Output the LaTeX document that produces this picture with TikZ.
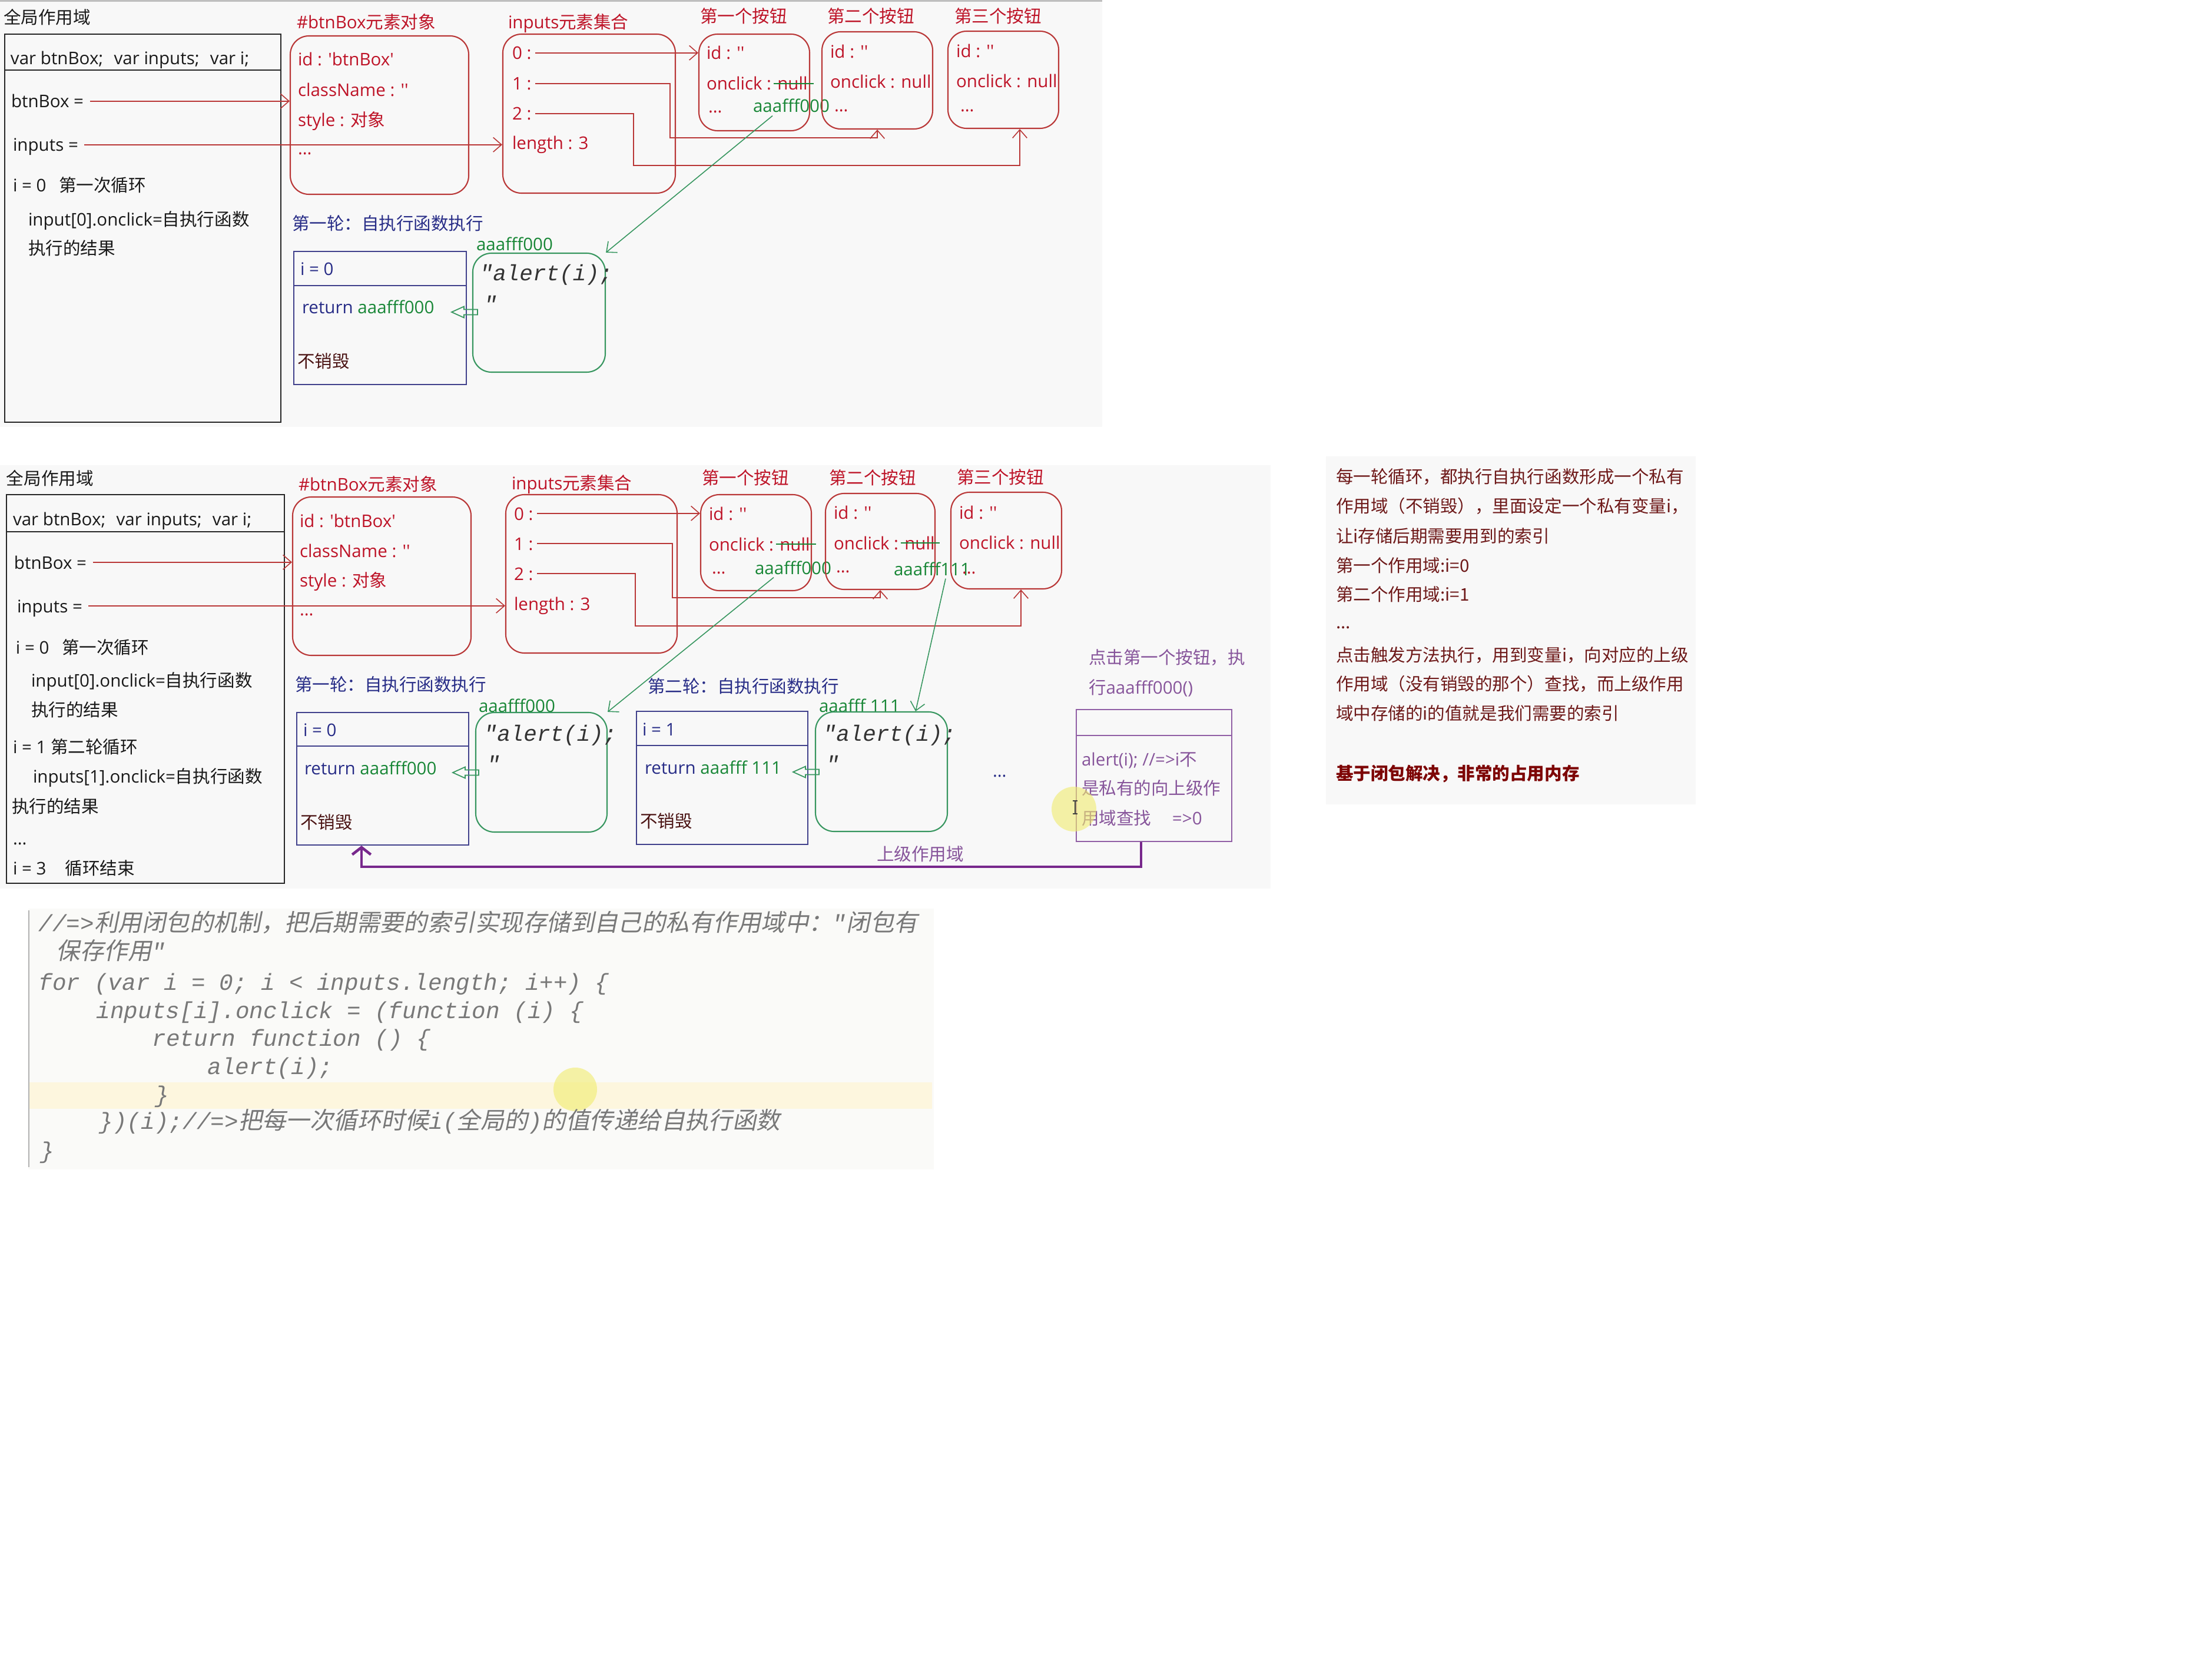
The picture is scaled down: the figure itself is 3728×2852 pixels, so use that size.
\documentclass[tikz,border=0pt]{standalone}
\usepackage{fontspec}
\newfontfamily\latf{Open Sans}
\newfontfamily\zhf{Noto Sans CJK SC}
\newfontfamily\codemono{Liberation Mono}
\newfontfamily\codezh{Noto Sans CJK SC}[FakeSlant=0.2]
\usetikzlibrary{arrows.meta,fit,calc}
\newcommand\zhtxt[1]{{\zhf #1}}
\newcommand\squote{\textquotesingle}
\newcommand\cdm[1]{{\fontsize{11.2}{14}\selectfont\codemono\itshape #1}}
\newcommand\cdz[1]{{\fontsize{11.5}{14}\selectfont\codezh #1}}
\definecolor{cred}{RGB}{190,20,40}
\definecolor{credln}{RGB}{185,55,55}
\definecolor{cgreen}{RGB}{25,135,55}
\definecolor{cgreenln}{RGB}{55,150,95}
\definecolor{cnavy}{RGB}{40,45,135}
\definecolor{cnavyln}{RGB}{65,65,140}
\definecolor{cpurp}{RGB}{120,40,140}
\definecolor{cpurptxt}{RGB}{135,85,155}
\definecolor{cpurpbox}{RGB}{145,95,165}
\definecolor{cdark}{RGB}{75,20,20}
\definecolor{cmaroon}{RGB}{110,25,25}
\definecolor{cbold}{RGB}{125,5,5}
\definecolor{ccode}{RGB}{120,120,120}
\definecolor{cbg}{RGB}{248,248,248}
\definecolor{cbgcode}{RGB}{250,250,248}
\definecolor{chl}{RGB}{253,246,222}
\definecolor{cyel}{RGB}{240,236,110}
\tikzset{
  tx/.style={anchor=base west, inner sep=0pt, outer sep=0pt, font=\fontsize{8.4}{10}\selectfont\latf, text height=8pt, text depth=1.6pt, text=black!90},
  rt/.style={tx, text=cred},
  gt/.style={tx, text=cgreen},
  nt/.style={tx, text=cnavy},
  purptx/.style={tx, text=cpurptxt},
  rp/.style={tx, font=\fontsize{8.4}{10}\selectfont\zhf, text=cmaroon},
  redbox/.style={draw=credln, line width=0.6pt, rounded corners=9pt, inner sep=0pt},
  greenbox/.style={draw=cgreenln, line width=0.6pt, rounded corners=9pt, inner sep=0pt},
  navybox/.style={draw=cnavyln, line width=0.6pt, inner sep=0pt},
  blkbox/.style={draw=black!85, line width=0.6pt, inner sep=0pt},
  purpbox/.style={draw=cpurpbox, line width=0.6pt, inner sep=0pt},
  redarr/.style={draw=credln, line width=0.45pt, -{Straight Barb[length=4pt,width=7pt]}},
  greenarr/.style={draw=cgreenln, line width=0.45pt, -{Straight Barb[length=4pt,width=7pt]}},
  hollow/.style={draw=cgreenln, line width=0.5pt},
  strike/.style={draw=cgreen, line width=0.6pt},
  purparr/.style={draw=cpurp, line width=1.3pt, -{Straight Barb[length=3.5pt,width=9pt]}},
  codetx/.style={anchor=base west, inner sep=0pt, text=ccode},
  alerttx/.style={anchor=base west, inner sep=0pt, text=black!80, font=\fontsize{10.7}{12}\selectfont\codemono\itshape},
}
\begin{document}
\begin{tikzpicture}[x=0.01cm, y=-0.01cm]
\useasboundingbox (0,0) rectangle (3728,2852);
\fill[white] (0,0) rectangle (3728,2852);

% ================= TOP PANEL =================
\fill[cbg] (0,0) rectangle (1872,725);
\draw[gray!50, line width=0.85pt] (0,1.5) -- (1872,1.5);
\node[tx] (g1title) at (6,41) {\zhtxt{全局作用域}};
\node[blkbox, fit={(8,58) (477,717)}] (g1) {};
\draw[black!85, line width=0.6pt] (8,119) -- (477,119);
\node[tx] (g1var) at (18,110) {var btnBox;\hspace{3pt} var inputs;\hspace{3pt} var i;};
\node[tx] (g1btn) at (19,183) {btnBox =};
\node[tx] (g1inp) at (22,257) {inputs =};
\node[tx] (g1i0) at (22,326) {i = 0\hspace{4pt} \zhtxt{第一次循环}};
\node[tx] (g1on0) at (48,384) {input[0].onclick=\zhtxt{自执行函数}};
\node[tx] (g1res0) at (48,433) {\zhtxt{执行的结果}};

\node[rt] (o1lbl) at (504,49) {\#btnBox\zhtxt{元素对象}};
\node[redbox, fit={(493,61) (796,330)}] (o1) {};
\node[rt] (o1id) at (506,112) {id : \squote btnBox\squote};
\node[rt] (o1cls) at (506,164) {className : \squote\squote};
\node[rt] (o1sty) at (506,215) {style : \zhtxt{对象}};
\node[rt] (o1dots) at (506,263) {...};

\node[nt] (r1lbl) at (496,391) {\zhtxt{第一轮：自执行函数执行}};
\node[navybox, fit={(499,427) (792,653)}] (p1) {};
\draw[cnavyln, line width=0.6pt] (499,485) -- (792,485);
\node[nt] (p1i) at (510,468) {i = 0};
\node[nt] (p1ret) at (513,533) {return \textcolor{cgreen}{aaafff000}};
\node[tx, text=cdark] (p1keep) at (505,625) {\zhtxt{不销毁}};

\node[gt] (gb1lbl) at (809,426) {aaafff000};
\node[greenbox, fit={(803,430) (1028,632)}] (gb1) {};
\node[alerttx] (gb1code) at (814,477) {"alert(i);};
\node[alerttx] (gb1q) at (821,530) {"};
\draw[hollow] (767,530) -- (788,520.5) -- (788,525.5) -- (811,525.5) -- (811,534.5) -- (788,534.5) -- (788,539.5) -- cycle;

\node[rt] (i1lbl) at (863,49) {inputs\zhtxt{元素集合}};
\node[redbox, fit={(854,58) (1147,328)}] (i1) {};
\node[rt] (i1z) at (870,101) {0 :};
\node[rt] (i1o) at (870,153) {1 :};
\node[rt] (i1t) at (870,204) {2 :};
\node[rt] (i1len) at (870,254) {length : 3};

\node[rt] (b11lbl) at (1189,39) {\zhtxt{第一个按钮}};
\node[redbox, fit={(1187,58) (1375,222)}] (b11) {};
\node[rt] (b11id) at (1200,101) {id : \squote\squote};
\node[rt] (b11on) at (1200,153) {onclick : null};
\node[rt] (b11d) at (1203,192) {...};
\node[gt] (b11aaa) at (1279,191) {aaafff000};

\node[rt] (b12lbl) at (1405,39) {\zhtxt{第二个按钮}};
\node[redbox, fit={(1396,54) (1584,219)}] (b12) {};
\node[rt] (b12id) at (1410,99) {id : \squote\squote};
\node[rt] (b12on) at (1410,150) {onclick : null};
\node[rt] (b12d) at (1417,190) {...};

\node[rt] (b13lbl) at (1621,39) {\zhtxt{第三个按钮}};
\node[redbox, fit={(1610,53) (1798,218)}] (b13) {};
\node[rt] (b13id) at (1624,98) {id : \squote\squote};
\node[rt] (b13on) at (1624,149) {onclick : null};
\node[rt] (b13d) at (1631,190) {...};

\draw[redarr] ([xshift=3pt]g1btn.east) -- (g1btn.east -| o1.west);
\draw[redarr] ([xshift=3pt]g1inp.east) -- (g1inp.east -| i1.west);
\draw[redarr] ([xshift=2pt]i1z.east) -- (i1z.east -| b11.west);
\draw[redarr] ([xshift=2pt]i1o.east) -| (1138,234) -| (b12.south);
\draw[redarr] ([xshift=2pt]i1t.east) -| (1076,281) -| ($(b13.south)+(28,0)$);
\draw[strike] ($(b11on.east)+(-58,0)$) -- ($(b11on.east)+(10,0)$);
\draw[greenarr] ($(b11aaa.south)+(-32,0)$) -- (gb1.north east);

% ================= LOWER PANEL =================
\fill[cbg] (0,790) rectangle (2158,1509);
\node[tx] (g2title) at (11,823) {\zhtxt{全局作用域}};
\node[blkbox, fit={(11,840) (483,1500)}] (g2) {};
\draw[black!85, line width=0.6pt] (11,903) -- (483,903);
\node[tx] (g2var) at (22,892) {var btnBox;\hspace{3pt} var inputs;\hspace{3pt} var i;};
\node[tx] (g2btn) at (24,966) {btnBox =};
\node[tx] (g2inp) at (29,1040) {inputs =};
\node[tx] (g2i0) at (27,1110) {i = 0\hspace{4pt} \zhtxt{第一次循环}};
\node[tx] (g2on0) at (53,1166) {input[0].onclick=\zhtxt{自执行函数}};
\node[tx] (g2res0) at (53,1216) {\zhtxt{执行的结果}};
\node[tx] (g2i1) at (22,1279) {i = 1 \zhtxt{第二轮循环}};
\node[tx] (g2on1) at (56,1329) {inputs[1].onclick=\zhtxt{自执行函数}};
\node[tx] (g2res1) at (20,1380) {\zhtxt{执行的结果}};
\node[tx] (g2dots) at (22,1434) {...};
\node[tx] (g2i3) at (22,1485) {i = 3\hspace{7pt} \zhtxt{循环结束}};

\node[rt] (o2lbl) at (507,833) {\#btnBox\zhtxt{元素对象}};
\node[redbox, fit={(497,844) (800,1113)}] (o2) {};
\node[rt] (o2id) at (509,895) {id : \squote btnBox\squote};
\node[rt] (o2cls) at (509,946) {className : \squote\squote};
\node[rt] (o2sty) at (509,996) {style : \zhtxt{对象}};
\node[rt] (o2dots) at (509,1045) {...};

\node[nt] (r21lbl) at (501,1173) {\zhtxt{第一轮：自执行函数执行}};
\node[navybox, fit={(504,1210) (796,1435)}] (p21) {};
\draw[cnavyln, line width=0.6pt] (504,1267) -- (796,1267);
\node[nt] (p21i) at (515,1250) {i = 0};
\node[nt] (p21ret) at (517,1315) {return \textcolor{cgreen}{aaafff000}};
\node[tx, text=cdark] (p21keep) at (510,1407) {\zhtxt{不销毁}};

\node[gt] (gb21lbl) at (813,1209) {aaafff000};
\node[greenbox, fit={(808,1210) (1031,1413)}] (gb21) {};
\node[alerttx] (gb21code) at (821,1258) {"alert(i);};
\node[alerttx] (gb21q) at (826,1310) {"};
\draw[hollow] (769,1312) -- (790,1302.5) -- (790,1307.5) -- (813,1307.5) -- (813,1316.5) -- (790,1316.5) -- (790,1321.5) -- cycle;

\node[rt] (i2lbl) at (869,831) {inputs\zhtxt{元素集合}};
\node[redbox, fit={(859,840) (1150,1109)}] (i2) {};
\node[rt] (i2z) at (873,883) {0 :};
\node[rt] (i2o) at (873,934) {1 :};
\node[rt] (i2t) at (873,985) {2 :};
\node[rt] (i2len) at (873,1036) {length : 3};

\node[rt] (b21lbl) at (1192,822) {\zhtxt{第一个按钮}};
\node[redbox, fit={(1190,840) (1378,1003)}] (b21) {};
\node[rt] (b21id) at (1204,883) {id : \squote\squote};
\node[rt] (b21on) at (1204,935) {onclick : null};
\node[rt] (b21d) at (1209,974) {...};
\node[gt] (b21aaa) at (1282,975) {aaafff000};

\node[rt] (b22lbl) at (1408,822) {\zhtxt{第二个按钮}};
\node[redbox, fit={(1402,838) (1588,1001)}] (b22) {};
\node[rt] (b22id) at (1416,881) {id : \squote\squote};
\node[rt] (b22on) at (1416,933) {onclick : null};
\node[rt] (b22d) at (1420,972) {...};
\node[gt] (b22aaa) at (1518,977) {aaafff111};

\node[rt] (b23lbl) at (1625,821) {\zhtxt{第三个按钮}};
\node[redbox, fit={(1615,836) (1803,1000)}] (b23) {};
\node[rt] (b23id) at (1629,881) {id : \squote\squote};
\node[rt] (b23on) at (1629,932) {onclick : null};
\node[rt] (b23d) at (1634,974) {...};

\node[nt] (r22lbl) at (1100,1176) {\zhtxt{第二轮：自执行函数执行}};
\node[navybox, fit={(1081,1208) (1372,1434)}] (p22) {};
\draw[cnavyln, line width=0.6pt] (1081,1266) -- (1372,1266);
\node[nt] (p22i) at (1091,1249) {i = 1};
\node[nt] (p22ret) at (1095,1314) {return \textcolor{cgreen}{aaafff 111}};
\node[tx, text=cdark] (p22keep) at (1087,1405) {\zhtxt{不销毁}};

\node[gt] (gb22lbl) at (1391,1209) {aaafff 111};
\node[greenbox, fit={(1385,1209) (1609,1412)}] (gb22) {};
\node[alerttx] (gb22code) at (1397,1258) {"alert(i);};
\node[alerttx] (gb22q) at (1402,1310) {"};
\draw[hollow] (1347,1311) -- (1368,1301.5) -- (1368,1306.5) -- (1391,1306.5) -- (1391,1315.5) -- (1368,1315.5) -- (1368,1320.5) -- cycle;

\node[nt] (more) at (1686,1319) {...};

\node[purptx] (click1) at (1849,1127) {\zhtxt{点击第一个按钮，执}};
\node[purptx] (click2) at (1849,1178) {\zhtxt{行}aaafff000()};
\node[purpbox, fit={(1828,1205) (2092,1429)}] (pb) {};
\draw[cpurpbox, line width=0.6pt] (1828,1249) -- (2092,1249);
\node[purptx] (pb1) at (1837,1300) {alert(i); //=>i\zhtxt{不}};
\node[purptx] (pb2) at (1837,1349) {\zhtxt{是私有的向上级作}};
\node[purptx] (pb3) at (1837,1400) {\zhtxt{用域查找}\hspace{8pt} =>0};
\node[purptx] (uplbl) at (1489,1461) {\zhtxt{上级作用域}};

\draw[redarr] ([xshift=3pt]g2btn.east) -- (g2btn.east -| o2.west);
\draw[redarr] ([xshift=3pt]g2inp.east) -- (g2inp.east -| i2.west);
\draw[redarr] ([xshift=2pt]i2z.east) -- (i2z.east -| b21.west);
\draw[redarr] ([xshift=2pt]i2o.east) -| (1142,1015) -| (b22.south);
\draw[redarr] ([xshift=2pt]i2t.east) -| (1079,1063) -| ($(b23.south)+(25,0)$);
\draw[strike] ($(b21on.east)+(-58,0)$) -- ($(b21on.east)+(10,0)$);
\draw[strike] ($(b22on.east)+(-58,0)$) -- ($(b22on.east)+(8,0)$);
\draw[greenarr] ($(b21aaa.south)+(-33,0)$) -- (gb21.north east);
\draw[greenarr] ($(b22aaa.south)+(23,0)$) -- ($(gb22.north east)+(-55,0)$);
\draw[purparr] ($(pb.south)+(-22,0)$) -- ++(0,42) -| ($(p21.south)+(-36,0)$);

\fill[cyel, fill opacity=0.6] (1824,1374) circle (38);
\draw[black!75, line width=0.5pt] (1826,1360) -- (1826,1382) (1822,1360) -- (1830,1360) (1822,1382) -- (1830,1382);

% ================= RIGHT TEXT PANEL =================
\fill[cbg] (2252,775) rectangle (2880,1366);
\node[rp] (n1) at (2269,820) {每一轮循环，都执行自执行函数形成一个私有};
\node[rp] (n2) at (2269,870) {作用域（不销毁），里面设定一个私有变量i，};
\node[rp] (n3) at (2269,921) {让i存储后期需要用到的索引};
\node[rp] (n4) at (2269,971) {第一个作用域:i=0};
\node[rp] (n5) at (2269,1020) {第二个作用域:i=1};
\node[rp] (n6) at (2269,1067) {...};
\node[rp] (n7) at (2269,1123) {点击触发方法执行，用到变量i，向对应的上级};
\node[rp] (n8) at (2269,1172) {作用域（没有销毁的那个）查找，而上级作用};
\node[rp] (n9) at (2269,1222) {域中存储的i的值就是我们需要的索引};
\node[rp, text=cbold, font=\fontsize{8.4}{10}\selectfont\zhf\bfseries] (n10) at (2269,1324) {基于闭包解决，非常的占用内存};

% ================= CODE BLOCK =================
\fill[cbgcode] (48,1543) rectangle (1586,1986);
\fill[chl] (49,1838) rectangle (1583,1883);
\draw[gray!60, line width=0.6pt] (49,1546) -- (49,1982);
\fill[cyel, fill opacity=0.6] (977,1850) circle (37);
\node[codetx] (c1) at (65,1581) {\cdm{//=>}\cdz{利用闭包的机制，把后期需要的索引实现存储到自己的私有作用域中：}\cdm{"}\cdz{闭包有}};
\node[codetx] (c2) at (95,1629) {\cdz{保存作用}\cdm{"}};
\node[codetx] (c3) at (65,1681) {\cdm{for (var i = 0; i < inputs.length; i++) \{}};
\node[codetx] (c4) at (163,1729) {\cdm{inputs[i].onclick = (function (i) \{}};
\node[codetx] (c5) at (258,1776) {\cdm{return function () \{}};
\node[codetx] (c6) at (352,1824) {\cdm{alert(i);}};
\node[codetx] (c7) at (263,1872) {\cdm{\}}};
\node[codetx] (c8) at (168,1917) {\cdm{\})(i);//=>}\cdz{把每一次循环时候}\cdm{i(}\cdz{全局的}\cdm{)}\cdz{的值传递给自执行函数}};
\node[codetx] (c9) at (68,1967) {\cdm{\}}};
\end{tikzpicture}
\end{document}
